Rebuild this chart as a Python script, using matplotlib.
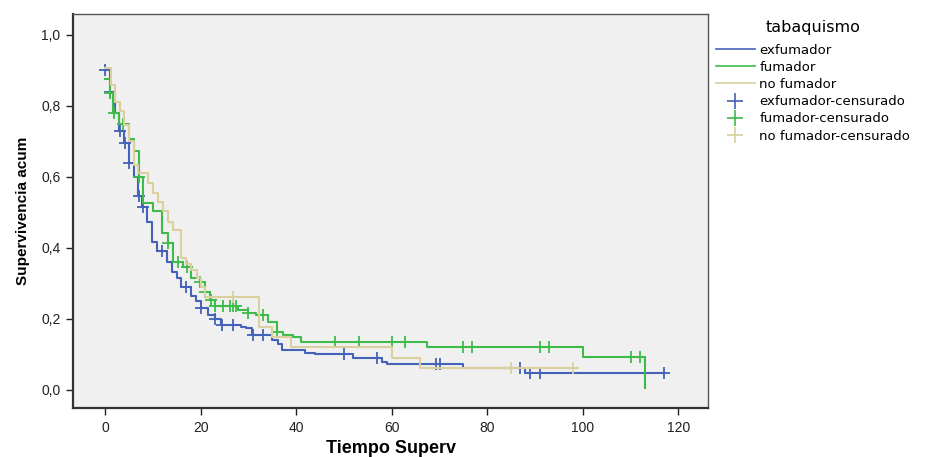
import matplotlib
matplotlib.use("Agg")
import matplotlib.pyplot as plt
from matplotlib.lines import Line2D
import numpy as np

plt.rcParams['font.family'] = ['Liberation Sans', 'DejaVu Sans']

# curvas de Kaplan-Meier (tiempo del salto, supervivencia despues del salto)
ex_t = [0, 1.0, 2.0, 3.0, 4.0, 5.0, 6.0, 7.0, 7.8, 8.7, 9.8, 10.8, 12.9, 14.0, 15.0, 16.0,
        18.0, 19.0, 20.0, 21.5, 23.0, 24.3, 28.5, 29.5, 30.8, 35.0, 36.2, 37.0, 41.8, 44.0,
        52.0, 58.0, 59.0, 75.0, 88.0, 117.0]
ex_s = [0.90, 0.84, 0.78, 0.73, 0.695, 0.64, 0.60, 0.545, 0.515, 0.474, 0.418, 0.39, 0.361,
        0.333, 0.315, 0.29, 0.265, 0.25, 0.23, 0.212, 0.20, 0.183, 0.178, 0.174, 0.155, 0.141,
        0.13, 0.113, 0.105, 0.10, 0.091, 0.08, 0.072, 0.062, 0.047, 0.047]
ex_cens = [0.05, 1.1, 3.1, 4.1, 5.1, 7.1, 7.9, 11.9, 17.0, 20.1, 23.1, 24.4, 26.8, 31.0, 33.0,
           50.0, 57.0, 69.2, 70.1, 86.8, 88.9, 91.0, 117.0]

fu_t = [0, 1.0, 1.7, 3.0, 5.0, 6.0, 7.1, 8.0, 10.1, 11.9, 13.1, 14.3, 16.4, 18.1, 19.9, 20.9,
        22.0, 23.0, 27.8, 29.9, 31.5, 34.2, 36.0, 37.3, 39.4, 41.1, 67.3, 100.0, 113.0]
fu_s = [0.875, 0.836, 0.78, 0.75, 0.706, 0.673, 0.60, 0.526, 0.503, 0.441, 0.413, 0.361,
        0.347, 0.315, 0.305, 0.277, 0.254, 0.235, 0.225, 0.216, 0.21, 0.192, 0.164, 0.155,
        0.148, 0.136, 0.122, 0.094, 0.005]
fu_cens = [1.1, 1.8, 3.8, 7.2, 13.2, 15.3, 17.1, 19.95, 21.0, 22.1, 23.1, 24.7, 26.1, 26.8,
           27.5, 30.0, 33.0, 36.1, 48.1, 53.1, 60.0, 62.8, 75.0, 76.9, 91.0, 93.0, 110.0, 112.0]

no_t = [0, 1.2, 2.1, 3.1, 4.0, 5.0, 6.1, 7.0, 9.1, 10.0, 11.0, 12.1, 13.2, 14.2, 16.0, 17.0,
        18.1, 19.2, 20.0, 20.9, 32.2, 34.9, 39.0, 60.0, 66.0, 99.0]
no_s = [0.906, 0.859, 0.812, 0.786, 0.745, 0.70, 0.634, 0.61, 0.582, 0.554, 0.53, 0.503,
        0.474, 0.45, 0.371, 0.355, 0.338, 0.315, 0.29, 0.263, 0.178, 0.148, 0.12, 0.091,
        0.061, 0.061]
no_cens = [26.8, 85.0, 98.0]

grupos = ['exfumador', 'fumador', 'no fumador']
colores = ['#4462b8', '#3dbb4a', '#d9d09e']
curvas = [(ex_t, ex_s, ex_cens), (fu_t, fu_s, fu_cens), (no_t, no_s, no_cens)]


def surv_at(t, s, x):
    i = np.searchsorted(t, x, side='right') - 1
    return s[max(i, 0)]


fig = plt.figure(figsize=(9.26, 4.57), dpi=100)
ax = fig.add_axes([73 / 926, 1 - 408 / 457, (708 - 73) / 926, (408 - 14) / 457])
ax.set_facecolor('#f0f0f0')

for (t, s, c), col in zip(curvas, colores):
    ax.step(t, s, where='post', color=col, lw=1.5)
    cy = [surv_at(t, s, x) for x in c]
    ax.plot(c, cy, ls='none', marker='+', ms=9, mew=1.3, color=col)

ax.set_xlim(-6.7, 126.2)
ax.set_ylim(-0.051, 1.059)
ax.set_xticks([0, 20, 40, 60, 80, 100, 120])
ax.set_yticks([0, 0.2, 0.4, 0.6, 0.8, 1.0])
ax.set_yticklabels(['0,0', '0,2', '0,4', '0,6', '0,8', '1,0'])
ax.tick_params(direction='out', length=5, width=1, pad=4, labelsize=10, colors='#222222')
for lado in ['left', 'bottom']:
    ax.spines[lado].set_linewidth(1.6)
    ax.spines[lado].set_color('#333333')
for lado in ['top', 'right']:
    ax.spines[lado].set_linewidth(1.0)
    ax.spines[lado].set_color('#555555')

ax.set_xlabel('Tiempo Superv', fontsize=13, fontweight='bold', labelpad=4)
ax.set_ylabel('Supervivencia acum', fontsize=11, fontweight='bold', labelpad=8)

handles = [Line2D([], [], color=col, lw=1.2) for col in colores]
handles += [Line2D([], [], ls='none', marker='+', ms=11, mew=1.2, color=col) for col in colores]
labels = grupos + [g + '-censurado' for g in grupos]
leg = fig.legend(handles, labels, title='tabaquismo', loc='upper left',
                 bbox_to_anchor=(711 / 926, 1 - 15 / 457), frameon=False,
                 prop={'family': 'DejaVu Sans', 'size': 9.5},
                 handlelength=2.9, handletextpad=0.35,
                 labelspacing=0.32, borderaxespad=0)
leg.get_title().set_fontfamily('DejaVu Sans')
leg.get_title().set_fontsize(11.5)
leg._legend_box.sep = 6

fig.savefig('out.png', dpi=100)
